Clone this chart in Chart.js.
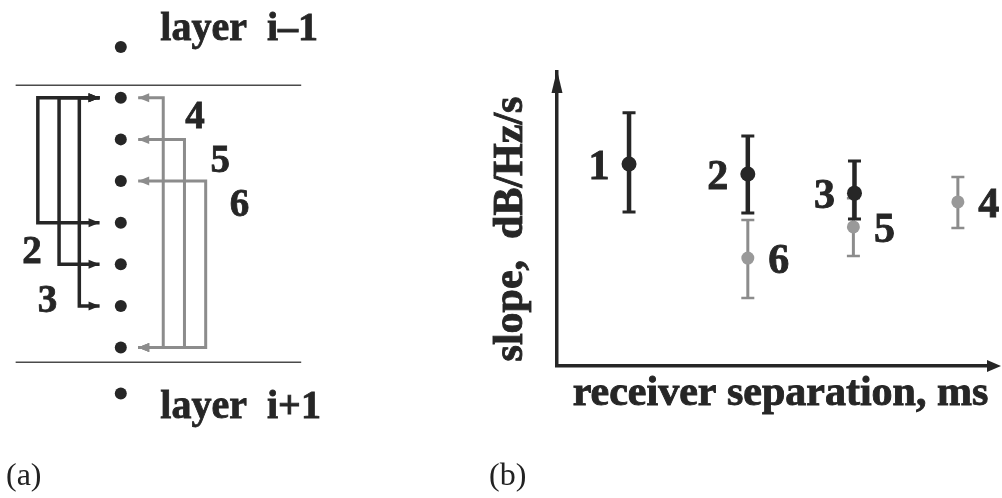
<!DOCTYPE html>
<html>
<head>
<meta charset="utf-8">
<title>receiver pairs and slope vs separation</title>
<script src="https://cdn.jsdelivr.net/npm/chart.js@4.4.0/dist/chart.umd.min.js"></script>
<style>
  html, body { margin: 0; padding: 0; background: #fff; }
  #page { position: relative; width: 1002px; height: 498px; overflow: hidden;
          font-family: "Liberation Serif", "Times New Roman", serif; }
  canvas { position: absolute; top: 0; }
  #diagram { left: 0; }
  #slope { left: 470px; }
  .panel-tag { position: absolute; font-size: 32px; line-height: 32px; color: #222; }
</style>
</head>
<body>
<div id="page">
  <canvas id="diagram" width="340" height="498"></canvas>
  <canvas id="slope" width="532" height="498"></canvas>
  <div class="panel-tag" style="left:6px;top:458px">(a)</div>
  <div class="panel-tag" style="left:489px;top:458px">(b)</div>
</div>
<script>
// ---------- panel (a): receivers and the six receiver pairs ----------
const receiverRows = [-1.22, 0, 1, 2, 3, 4, 5, 6, 7.1];   // row units, 0..6 inside the layer
const receiverColumn = 11.9;
const layerEdges = [-0.3, 6.35];
const layerSpan = [1.0, 30.6];
const layerNames = ['layer  i\u20131', 'layer  i+1'];
const layerNameRows = [-1.38, 7.69];
const layerNameColumn = 16.0;

const pairIds = ['1', '2', '3', '4', '5', '6'];
const pairFrom = [0, 0, 0, 0, 1, 2];
const pairTo = [3, 4, 5, 6, 6, 6];
const pairColumn = [3.3, 5.5, 7.6, 16.3, 18.5, 20.7];
const pairTip = [9.7, 9.7, 9.7, 13.7, 13.7, 13.7];
const pairTagX = [null, 2.7, 4.3, 19.6, 22.2, 24.2];
const pairTagY = [null, 3.66, 4.83, 0.42, 1.48, 2.53];

// ---------- panel (b): slope vs receiver separation ----------
const separation = [3.0, 4.08, 5.05, 5.99, 5.04, 4.08];
const slope      = [6.87, 6.53, 5.88, 5.58, 4.73, 3.67];
const slopeLow   = [5.24, 5.20, 5.00, 4.69, 3.74, 2.31];
const slopeHigh  = [8.61, 7.82, 6.97, 6.43, 5.71, 4.97];
const tagSide    = ['left', 'left', 'left', 'right', 'right', 'right'];
const xTitle = 'receiver separation, ms';
const yTitle = 'slope,  dB/Hz/s';

const INK = '#262626';
const GREY = '#8c8c8c';
const GREY_DOT = '#999999';
const SERIF = '"Liberation Serif", "Times New Roman", serif';
const isDark = i => i < 3;

function arrowHead(ctx, x, y, angle, len, half, color) {
    ctx.save();
    ctx.translate(x, y);
    ctx.rotate(angle);
    ctx.beginPath();
    ctx.moveTo(0, 0);
    ctx.lineTo(-len, -half);
    ctx.lineTo(-len, half);
    ctx.closePath();
    ctx.fillStyle = color;
    ctx.fill();
    ctx.restore();
}

// bold text with a hair of stroke, the scanned type is heavy
function heavyText(ctx, t, x, y, weight) {
    ctx.fillText(t, x, y);
    ctx.lineWidth = weight;
    ctx.strokeStyle = ctx.fillStyle;
    ctx.strokeText(t, x, y);
}

// =====================================================
// Panel (a)
// =====================================================
const diagramSets = [
    {
        data: receiverRows.map(r => ({ x: receiverColumn, y: r })),
        showLine: false,
        pointRadius: 6,
        pointBackgroundColor: INK,
        pointBorderWidth: 0
    }
];
layerEdges.forEach(e => {
    diagramSets.push({
        data: layerSpan.map(x => ({ x: x, y: e })),
        showLine: true,
        borderColor: '#4a4a4a',
        borderWidth: 1.5,
        pointRadius: 0
    });
});
pairIds.forEach((id, i) => {
    diagramSets.push({
        data: [
            { x: pairTip[i], y: pairFrom[i] },
            { x: pairColumn[i], y: pairFrom[i] },
            { x: pairColumn[i], y: pairTo[i] },
            { x: pairTip[i], y: pairTo[i] }
        ],
        showLine: true,
        borderColor: isDark(i) ? INK : GREY,
        borderWidth: isDark(i) ? 3.5 : 3,
        borderJoinStyle: 'miter',
        pointRadius: 0
    });
});

const diagramDecor = {
    id: 'diagramDecor',
    afterDatasetsDraw(chart) {
        const { ctx, scales: { x, y } } = chart;
        // arrow heads: dark pairs point right, grey pairs point left
        pairIds.forEach((id, i) => {
            const ang = isDark(i) ? 0 : Math.PI;
            const col = isDark(i) ? INK : GREY;
            [pairFrom[i], pairTo[i]].forEach(r => {
                arrowHead(ctx, x.getPixelForValue(pairTip[i]), y.getPixelForValue(r), ang, 11, 4.5, col);
            });
        });
        ctx.save();
        ctx.fillStyle = INK;
        ctx.textBaseline = 'alphabetic';
        ctx.textAlign = 'left';
        ctx.font = 'bold 40px ' + SERIF;
        layerNames.forEach((t, k) => {
            heavyText(ctx, t, x.getPixelForValue(layerNameColumn), y.getPixelForValue(layerNameRows[k]), 0.8);
        });
        ctx.font = 'bold 39px ' + SERIF;
        ctx.textAlign = 'center';
        pairIds.forEach((id, i) => {
            if (pairTagX[i] === null) return;
            heavyText(ctx, id, x.getPixelForValue(pairTagX[i]), y.getPixelForValue(pairTagY[i]) + 13, 0.8);
        });
        ctx.restore();
    }
};

new Chart(document.getElementById('diagram'), {
    type: 'scatter',
    data: { datasets: diagramSets },
    options: {
        responsive: false,
        animation: false,
        events: [],
        layout: { padding: 0 },
        plugins: { legend: { display: false }, tooltip: { enabled: false } },
        scales: {
            x: { type: 'linear', display: false, min: 0, max: 34 },
            y: { type: 'linear', display: false, min: -2.203, max: 9.468, reverse: true }
        }
    },
    plugins: [diagramDecor]
});

// =====================================================
// Panel (b)
// =====================================================
const darkIdx = [0, 1, 2];
const lightIdx = [3, 4, 5];

const errorBars = {
    id: 'errorBars',
    beforeDatasetsDraw(chart) {
        const { ctx, scales: { x, y } } = chart;
        ctx.save();
        // grey ones first so the dark bars sit on top
        lightIdx.concat(darkIdx).forEach(i => {
            const px = x.getPixelForValue(separation[i]);
            const lo = y.getPixelForValue(slopeLow[i]);
            const hi = y.getPixelForValue(slopeHigh[i]);
            ctx.strokeStyle = isDark(i) ? INK : GREY;
            ctx.lineWidth = isDark(i) ? 4.5 : 3;
            ctx.beginPath();
            ctx.moveTo(px, lo);
            ctx.lineTo(px, hi);
            ctx.stroke();
            ctx.lineWidth = isDark(i) ? 3 : 2.5;
            ctx.beginPath();
            ctx.moveTo(px - 6.5, lo); ctx.lineTo(px + 6.5, lo);
            ctx.moveTo(px - 6.5, hi); ctx.lineTo(px + 6.5, hi);
            ctx.stroke();
        });
        ctx.restore();
    },
    afterDatasetsDraw(chart) {
        const { ctx, scales: { x, y } } = chart;
        ctx.save();
        ctx.fillStyle = INK;
        ctx.font = 'bold 42px ' + SERIF;
        ctx.textAlign = 'center';
        ctx.textBaseline = 'alphabetic';
        pairIds.forEach((id, i) => {
            const px = x.getPixelForValue(separation[i]) + (tagSide[i] === 'left' ? -30 : 31);
            heavyText(ctx, id, px, y.getPixelForValue(slope[i]) + 15, 0.9);
        });
        ctx.restore();
    },
    afterDraw(chart) {
        const { ctx, chartArea } = chart;
        // arrow heads on both axes
        arrowHead(ctx, chartArea.left, chartArea.top - 2, -Math.PI / 2, 23, 5.5, INK);
        arrowHead(ctx, chartArea.right + 13, chartArea.bottom, 0, 14, 6, INK);
        // axis titles, placed against the plot area
        ctx.save();
        ctx.fillStyle = INK;
        ctx.font = 'bold 42px ' + SERIF;
        ctx.textAlign = 'center';
        ctx.textBaseline = 'alphabetic';
        heavyText(ctx, xTitle, (chartArea.left + chartArea.right) / 2 + 8, chartArea.bottom + 39, 0.9);
        ctx.translate(chartArea.left - 35, (chartArea.top + chartArea.bottom) / 2 + 10);
        ctx.rotate(-Math.PI / 2);
        heavyText(ctx, yTitle, 0, 0, 0.9);
        ctx.restore();
    }
};

new Chart(document.getElementById('slope'), {
    type: 'scatter',
    data: {
        datasets: [
            {
                label: 'pairs 1-3',
                data: darkIdx.map(i => ({ x: separation[i], y: slope[i] })),
                pointRadius: 7.5,
                pointBackgroundColor: INK,
                pointBorderWidth: 0
            },
            {
                label: 'pairs 4-6',
                data: lightIdx.map(i => ({ x: separation[i], y: slope[i] })),
                pointRadius: 6.5,
                pointBackgroundColor: GREY_DOT,
                pointBorderWidth: 0
            }
        ]
    },
    options: {
        responsive: false,
        animation: false,
        events: [],
        clip: false,
        layout: { padding: { top: 72, right: 14, left: 0, bottom: 0 } },
        plugins: { legend: { display: false }, tooltip: { enabled: false } },
        scales: {
            x: {
                type: 'linear',
                min: 2.345,
                max: 6.264,
                grid: { display: false },
                ticks: { display: false },
                border: { display: true, color: INK, width: 3.5 },
                afterFit: s => { s.height = 132; }
            },
            y: {
                type: 'linear',
                min: 0,
                max: 10,
                grid: { display: false },
                ticks: { display: false },
                border: { display: true, color: INK, width: 3.5 },
                afterFit: s => { s.width = 87; }
            }
        }
    },
    plugins: [errorBars]
});
</script>
</body>
</html>
